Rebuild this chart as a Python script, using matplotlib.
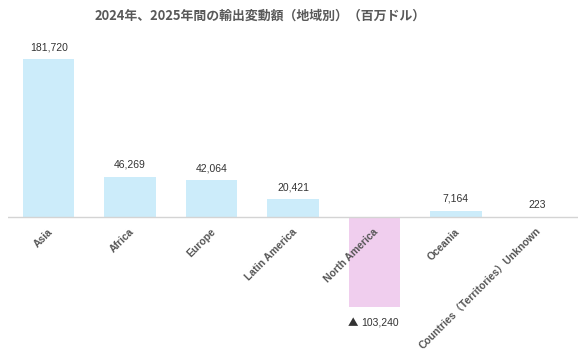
import matplotlib
matplotlib.use("Agg")
import matplotlib.pyplot as plt

regions = ["Asia", "Africa", "Europe", "Latin America", "North America",
           "Oceania", "Countries（Territories）Unknown"]
changes = [181720, 46269, 42064, 20421, -103240, 7164, 223]
title = "2024年、2025年間の輸出変動額（地域別）（百万ドル）"

POS_COLOR = "#CCECFA"
NEG_COLOR = "#F0CEEE"
FONTS = ["Liberation Sans", "Noto Sans CJK JP", "DejaVu Sans"]

W, H = 580, 362
fig = plt.figure(figsize=(W / 100, H / 100), dpi=100)

# axes placed in pixel terms: x 8..578, y 40..310
ax = fig.add_axes([8 / W, 1 - 310 / H, 570 / W, 270 / H])
ax.set_xlim(-0.5, len(regions) - 0.5)
ax.set_ylim(-106960, 203570)
ax.axis("off")

x = range(len(regions))
colors = [POS_COLOR if v >= 0 else NEG_COLOR for v in changes]
ax.bar(x, changes, width=0.63, color=colors, zorder=2)
ax.axhline(0, color="#d4d4d4", lw=1, zorder=3)

for i, v in enumerate(changes):
    if v >= 0:
        ax.annotate(f"{v:,}", (i, v), xytext=(0, 5), textcoords="offset points",
                    ha="center", va="bottom", fontsize=7.5, color="#333333",
                    family=FONTS)
    else:
        # negative values are shown with a triangle in front
        ax.annotate(f"{abs(v):,}", (i, v), xytext=(-9.5, -8), textcoords="offset points",
                    ha="left", va="top", fontsize=7.5, color="#333333",
                    family=FONTS)
        ax.annotate("▲", (i, v), xytext=(-11.5, -8.5), textcoords="offset points",
                    ha="right", va="top", fontsize=7.5, color="#333333",
                    family=["Noto Sans CJK JP", "DejaVu Sans"])
    # category labels hang from the zero line
    ax.annotate(regions[i], (i, 0), xytext=(-1, -7), textcoords="offset points",
                ha="right", va="top", rotation=45, rotation_mode="anchor",
                fontsize=7.5, fontweight="bold", color="#555555", family=FONTS,
                zorder=4)

fig.text(260 / W, 1 - 16 / H, title, ha="center", va="center", fontsize=9.3,
         fontweight="bold", color="#595959",
         family=["Noto Sans CJK JP", "DejaVu Sans"])

fig.savefig("out.png", dpi=100)
